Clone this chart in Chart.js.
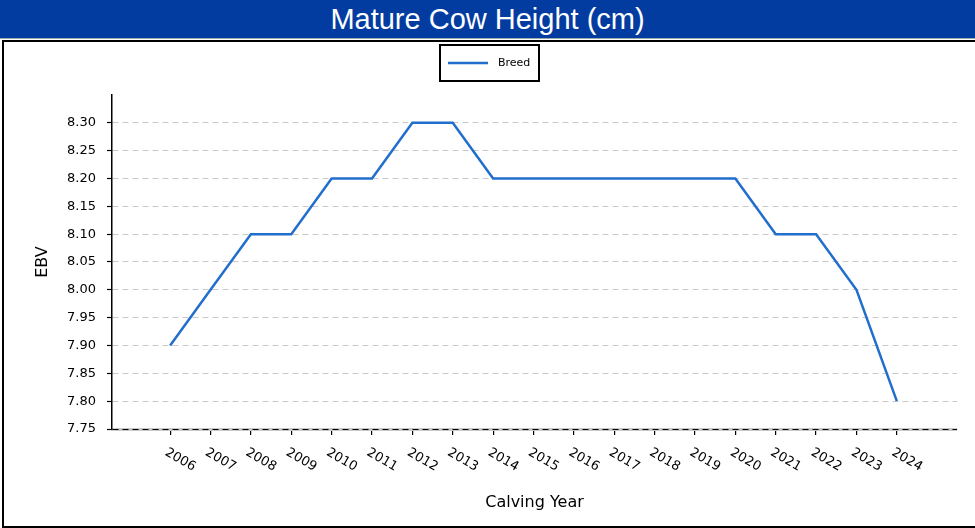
<!DOCTYPE html>
<html>
<head>
<meta charset="utf-8">
<script src="https://cdn.jsdelivr.net/npm/chart.js@4/dist/chart.umd.min.js"></script>
<style>
  body { margin: 0; background: #fff; overflow: hidden; }
  #titulo {
    position: absolute; left: 0; top: 0; width: 975px; height: 38px;
    background: #033ca1; color: #fff; text-align: center;
    font: 29px "Liberation Sans", Arial, sans-serif; line-height: 38px;
    border-bottom: 1px solid #9aa;
  }
  #marco {
    position: absolute; left: 2px; top: 40px; width: 980px; height: 484px;
    border: 2px solid #000;
  }
  #wrap { position: absolute; left: 0; top: 0; width: 971px; height: 484px; }
</style>
</head>
<body>
<div id="titulo">Mature Cow Height (cm)</div>
<div id="marco"><div id="wrap"><canvas id="myChart"></canvas></div></div>
<script>
const years = [2006, 2007, 2008, 2009, 2010, 2011, 2012, 2013, 2014, 2015,
  2016, 2017, 2018, 2019, 2020, 2021, 2022, 2023, 2024];
const breedValues = [7.90, 8.00, 8.10, 8.10, 8.20, 8.20, 8.30, 8.30, 8.20, 8.20,
  8.20, 8.20, 8.20, 8.20, 8.20, 8.10, 8.10, 8.00, 7.80];
const yTicks = [7.75, 7.80, 7.85, 7.90, 7.95, 8.00, 8.05, 8.10, 8.15, 8.20, 8.25, 8.30];

const canvas = document.getElementById("myChart");
const font = "'DejaVu Sans', sans-serif";

// legend with a box, drawn on top of the chart
const legendBox = {
  id: "legendBox",
  afterDraw(chart) {
    const ctx = chart.ctx;
    const ds = chart.data.datasets[0];
    ctx.save();
    ctx.strokeStyle = "#000";
    ctx.lineWidth = 2;
    ctx.strokeRect(436, 3, 99, 36);
    ctx.strokeStyle = ds.borderColor;
    ctx.lineWidth = 2.5;
    ctx.beginPath();
    ctx.moveTo(444, 21);
    ctx.lineTo(484, 21);
    ctx.stroke();
    ctx.fillStyle = "#000";
    ctx.font = "11px " + font;
    ctx.textBaseline = "middle";
    ctx.fillText(ds.label, 494, 21);
    ctx.restore();
  }
};

// x labels rotated clockwise like the original
const xLabels = {
  id: "xLabels",
  afterDraw(chart) {
    const ctx = chart.ctx;
    const x = chart.scales.x;
    ctx.save();
    ctx.fillStyle = "#000";
    ctx.font = "13px " + font;
    ctx.textBaseline = "top";
    ctx.textAlign = "left";
    years.forEach((y) => {
      const px = x.getPixelForValue(y);
      ctx.save();
      ctx.translate(px - 1, x.top + 17);
      ctx.rotate(30 * Math.PI / 180);
      ctx.fillText(String(y), 0, 0);
      ctx.restore();
    });
    ctx.restore();
  }
};

new Chart(canvas, {
  type: "line",
  data: {
    datasets: [
      {
        label: "Breed",
        data: years.map((y, i) => ({ x: y, y: breedValues[i] })),
        borderColor: "rgb(34,110,204)",
        backgroundColor: "rgb(34,110,204)",
        borderWidth: 2.5,
        pointRadius: 0,
        tension: 0,
      },
    ],
  },
  options: {
    responsive: true,
    maintainAspectRatio: false,
    animation: false,
    layout: { padding: { left: 0, right: 18, top: 53, bottom: 0 } },
    plugins: {
      legend: { display: false },
      tooltip: { enabled: false },
    },
    scales: {
      x: {
        type: "linear",
        min: 2004.56,
        max: 2025.49,
        afterBuildTicks: (scale) => {
          scale.ticks = years.map((v) => ({ value: v }));
        },
        afterFit: (scale) => { scale.height = 97; },
        grid: { drawOnChartArea: false, tickLength: 6, color: "#000", tickColor: "#000", lineWidth: 1.2, z: -3 },
        border: { color: "#c8c8c8", width: 3, z: -2 },
        ticks: { display: false },
        title: {
          display: true,
          text: "Calving Year",
          color: "#000",
          font: { family: font, size: 16 },
          padding: { top: 0, bottom: 14 },
        },
      },
      y: {
        min: 7.75,
        max: 8.35,
        afterBuildTicks: (scale) => {
          scale.ticks = yTicks.map((v) => ({ value: v }));
        },
        afterFit: (scale) => { scale.width = 108; },
        grid: {
          color: (c) => (c.tick && Math.abs(c.tick.value - 7.75) < 1e-6 ? "#000" : "#c8c8c8"),
          lineWidth: 1,
          tickColor: "#000",
          tickLength: 5,
          tickWidth: 1.2,
          tickBorderDash: [],
          z: -1,
        },
        border: { color: "#000", width: 1.5, dash: [6, 4] },
        ticks: {
          color: "#000",
          padding: 11,
          font: { family: font, size: 13 },
          callback: (v) => Number(v).toFixed(2),
        },
        title: {
          display: true,
          text: "EBV",
          color: "#000",
          font: { family: font, size: 16 },
          padding: { top: 29, bottom: 0 },
        },
      },
    },
  },
  plugins: [legendBox, xLabels],
});
</script>
</body>
</html>
